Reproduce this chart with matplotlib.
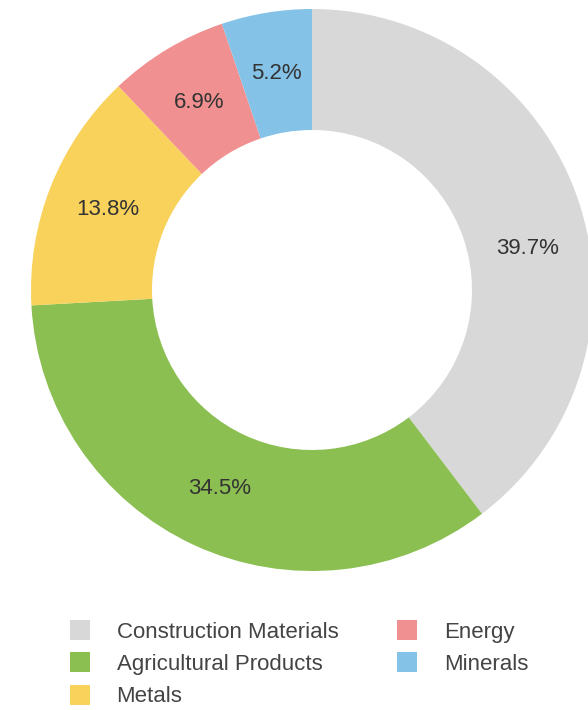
import matplotlib
matplotlib.use("Agg")
from matplotlib import pyplot as plt
from matplotlib.lines import Line2D
import numpy as np

plt.rcParams['font.family'] = ['Liberation Sans', 'DejaVu Sans']

categories = ["Construction Materials", "Agricultural Products", "Metals", "Energy", "Minerals"]
shares = [39.7, 34.5, 13.8, 6.9, 5.2]
colors = ["#d8d8d8", "#8bbf52", "#f9d25c", "#f09090", "#85c2e8"]

fig = plt.figure(figsize=(5.88, 7.10), dpi=100)
ax = fig.add_axes([0, 0, 1, 1])

cx, cy, r = 312, 420, 281
# pixel coordinates, y measured from the bottom
wedges, texts, autotexts = ax.pie(
    shares, colors=colors, startangle=90, counterclock=False,
    center=(cx, cy), radius=r, frame=True,
    autopct=lambda p: f"{p:.1f}%", pctdistance=0.78,
    wedgeprops=dict(width=121, linewidth=0),
    textprops=dict(fontsize=16, color="#333333"))

# the first label sits a bit lower than the wedge middle in the original
ang = np.deg2rad(11)
autotexts[0].set_position((cx + 0.78 * r * np.cos(ang), cy + 0.78 * r * np.sin(ang)))

ax.set_xlim(0, 588)
ax.set_ylim(0, 710)
ax.set_aspect("equal")
ax.axis("off")

handles = [Line2D([], [], marker="s", linestyle="none", markersize=15,
                  markerfacecolor=c, markeredgewidth=0) for c in colors]
fig.legend(handles, categories, ncol=2, loc="upper left",
           bbox_to_anchor=(0.083, 0.152), frameon=False,
           fontsize=16, labelcolor="#444444", handlelength=1.0,
           handletextpad=1.15, columnspacing=2.6, labelspacing=0.5)

fig.savefig("out.png", dpi=100)
